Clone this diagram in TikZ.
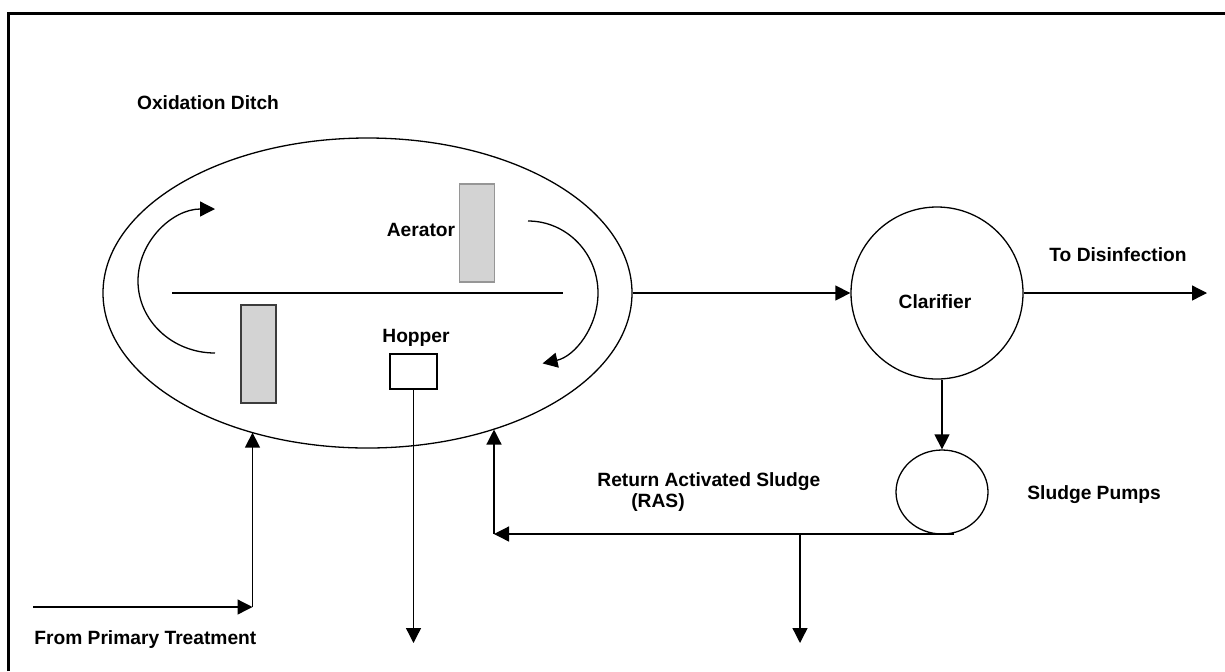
\documentclass[tikz,border=0pt]{standalone}
\usepackage{fontspec}
\setmainfont{Liberation Sans}
\usetikzlibrary{shapes.geometric,arrows.meta}
\definecolor{aerfill}{RGB}{211,211,211}
\definecolor{aerlight}{RGB}{150,150,150}
\definecolor{aerdark}{RGB}{60,60,60}
\begin{document}
\begin{tikzpicture}[x=0.5pt,y=-0.5pt,
  lbl/.style={font=\fontsize{9.6}{11.5}\selectfont\bfseries, inner sep=0pt, align=center},
  ln/.style={line width=0.65pt},
  arr/.style={line width=0.65pt, -{Triangle[length=7.5pt,width=7.5pt]}},
  aerbox/.style={draw=#1, fill=aerfill, line width=0.6pt, inner sep=0pt, minimum width=17.5pt, minimum height=49pt}]
\useasboundingbox (0,0) rectangle (1225,671);
% frame
\draw[line width=1.3pt] (8.5,671) -- (8.5,13.5) -- (1225,13.5);

% oxidation ditch
\node[draw, ellipse, line width=0.65pt, minimum width=264.5pt, minimum height=155pt, inner sep=0pt] (ditch) at (367.5,293) {};
\node[lbl] (title) at (208,103) {Oxidation Ditch};
\coordinate (divL) at (172,293);
\coordinate (divR) at (563,293);
\draw[ln] (divL) -- (divR);
\node[aerbox=aerlight] (aer1) at (477,233) {};
\node[aerbox=aerdark] (aer2) at (258.5,354) {};
\node[lbl] (aerlbl) at (421,230) {Aerator};
\node[lbl] (hoplbl) at (416,338) {Hopper};
\node[draw, line width=0.6pt, inner sep=0pt, minimum width=23.5pt, minimum height=17.5pt] (hopper) at (413.5,371.5) {};

% circulation arrows
\draw[arr] (215,353) arc[start angle=90, end angle=270, x radius=77, y radius=72];
\draw[arr] (528,221) arc[start angle=-90, end angle=78, x radius=70, y radius=72];

% clarifier and pumps
\node[draw, circle, line width=0.65pt, minimum size=86pt, inner sep=0pt] (clar) at (937,293) {};
\node[lbl] (clarlbl) at (935,302) {Clarifier};
\node[draw, ellipse, line width=0.65pt, minimum width=46pt, minimum height=42pt, inner sep=0pt] (pump) at (942,492) {};
\node[lbl, anchor=west] (pumplbl) at (1027,495) {Sludge Pumps};
\node[lbl] (dislbl) at (1118,255) {To Disinfection};
\node[lbl, anchor=west] (ras1) at (597,482) {Return Activated Sludge};
\node[lbl] (ras2) at (658,503) {(RAS)};
\node[lbl, anchor=west] (prilbl) at (34,640) {From Primary Treatment};

% connectors
\coordinate (dis) at (1207,293);
\draw[arr] (ditch.east) -- (clar.west);
\draw[arr] (clar.east) -- (dis);
\draw[arr] (clar.south -| pump.north) -- (pump.north);

\coordinate (rasS) at (954,534);
\coordinate (rasC) at (494,534);
\coordinate (rasB) at (800,534);
\coordinate (wasE) at (800,643);
\draw[arr] (rasS) -- (rasC);
\draw[arr] (rasC) -- (rasC |- ditch.313);
\draw[arr] (rasB) -- (wasE);

\coordinate (priS) at (33,607);
\coordinate (priC) at (252.5,607);
\draw[arr] (priS) -- (priC);
\draw[arr] (priC) -- (priC |- ditch.230);

\coordinate (hopE) at (413.5,643);
\draw[arr] (hopper.south) -- (hopE);
\end{tikzpicture}
\end{document}
